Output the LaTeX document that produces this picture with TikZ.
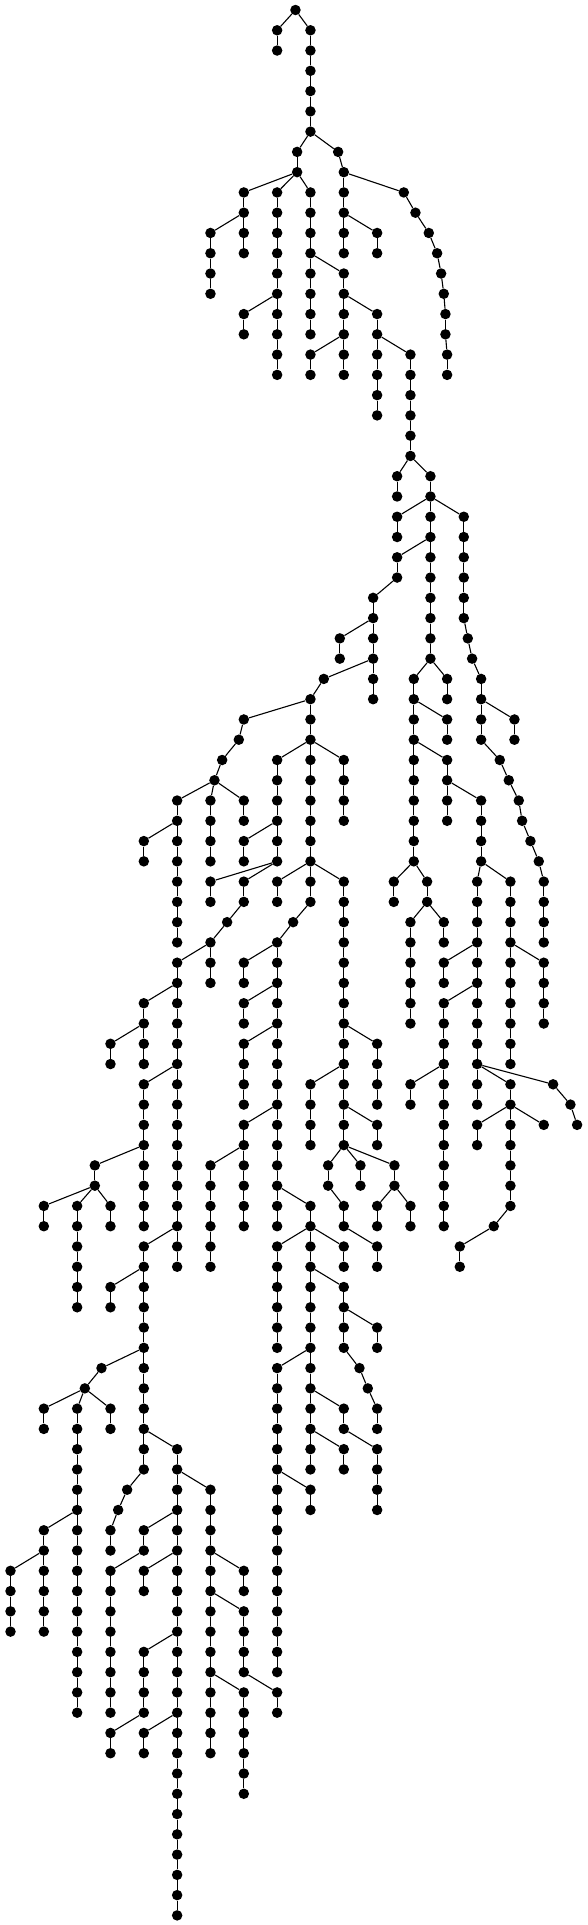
\documentclass[tikz,border=0pt]{standalone}
\begin{document}
\begin{tikzpicture}[
  v/.style={circle,fill=black,draw=none,inner sep=0pt,minimum size=10.5pt},
  e/.style={line width=1.1pt,black}]
\fill[white] (0,0) rectangle (587pt,-1925pt);
\path[use as bounding box] (0,0) rectangle (587pt,-1925pt);
\newcommand\T[4]{\node[v] (n#1x#2) at ({10.5pt+0.3333pt*#2},{-10pt-20.27pt*#1}) {}; \draw[e] (n#3x#4) -- (n#1x#2);}
\newcommand\Ch[3]{\foreach \rr in {#2,...,#3} {\pgfmathtruncatemacro\pp{\rr-1}\T{\rr}{#1}{\pp}{#1}}}
\node[v] (n0x855) at ({10.5pt+0.3333pt*855},{-10pt}) {};
\T{1}{800}{0}{855}
\T{1}{900}{0}{855}
\T{2}{800}{1}{800}
\Ch{900}{2}{6}
\T{7}{860}{6}{900}
\T{7}{983}{6}{900}
\T{8}{860}{7}{860}
\T{8}{1000}{7}{983}
\T{9}{700}{8}{860}
\T{9}{800}{8}{860}
\T{9}{900}{8}{860}
\T{9}{1000}{8}{1000}
\T{9}{1180}{8}{1000}
\T{10}{700}{9}{700}
\T{11}{600}{10}{700}
\T{11}{700}{10}{700}
\T{12}{700}{11}{700}
\Ch{600}{12}{14}
\Ch{800}{10}{14}
\T{15}{700}{14}{800}
\T{15}{800}{14}{800}
\T{16}{700}{15}{700}
\Ch{800}{16}{18}
\Ch{900}{10}{12}
\T{13}{900}{12}{900}
\T{13}{1000}{12}{900}
\Ch{900}{14}{16}
\T{14}{1000}{13}{1000}
\T{15}{1000}{14}{1000}
\T{15}{1100}{14}{1000}
\T{16}{1000}{15}{1000}
\T{17}{900}{16}{1000}
\T{17}{1000}{16}{1000}
\T{18}{900}{17}{900}
\T{18}{1000}{17}{1000}
\T{16}{1100}{15}{1100}
\T{17}{1100}{16}{1100}
\T{17}{1200}{16}{1100}
\Ch{1100}{18}{20}
\Ch{1200}{18}{22}
\T{23}{1160}{22}{1200}
\T{23}{1260}{22}{1200}
\T{10}{1000}{9}{1000}
\T{11}{1000}{10}{1000}
\T{11}{1100}{10}{1000}
\T{12}{1000}{11}{1000}
\T{12}{1100}{11}{1100}
\T{10}{1215}{9}{1180}
\T{11}{1255}{10}{1215}
\T{12}{1280}{11}{1255}
\T{13}{1292}{12}{1280}
\T{14}{1300}{13}{1292}
\T{15}{1305}{14}{1300}
\T{16}{1305}{15}{1305}
\T{17}{1310}{16}{1305}
\T{18}{1310}{17}{1310}
\T{24}{1160}{23}{1160}
\T{24}{1260}{23}{1260}
\T{25}{1160}{24}{1260}
\T{25}{1260}{24}{1260}
\T{25}{1360}{24}{1260}
\T{26}{1160}{25}{1160}
\T{26}{1260}{25}{1260}
\T{27}{1160}{26}{1260}
\T{27}{1260}{26}{1260}
\T{28}{1160}{27}{1160}
\T{29}{1088}{28}{1160}
\T{30}{1088}{29}{1088}
\T{31}{988}{30}{1088}
\T{31}{1088}{30}{1088}
\Ch{1260}{28}{32}
\T{33}{1210}{32}{1260}
\T{33}{1310}{32}{1260}
\Ch{1360}{26}{30}
\T{31}{1372}{30}{1360}
\T{32}{1385}{31}{1372}
\T{33}{1412}{32}{1385}
\T{34}{1412}{33}{1412}
\T{35}{1412}{34}{1412}
\T{35}{1512}{34}{1412}
\T{36}{1512}{35}{1512}
\T{36}{1412}{35}{1412}
\T{37}{1468}{36}{1412}
\T{38}{1495}{37}{1468}
\T{39}{1525}{38}{1495}
\T{40}{1535}{39}{1525}
\T{41}{1560}{40}{1535}
\T{42}{1585}{41}{1560}
\T{43}{1600}{42}{1585}
\Ch{1600}{44}{46}
\T{32}{988}{31}{988}
\T{32}{1088}{31}{1088}
\T{33}{940}{32}{1088}
\T{33}{1088}{32}{1088}
\T{34}{1088}{33}{1088}
\T{34}{900}{33}{940}
\T{35}{700}{34}{900}
\T{35}{900}{34}{900}
\T{36}{685}{35}{700}
\T{37}{635}{36}{685}
\T{38}{612}{37}{635}
\T{39}{500}{38}{612}
\T{39}{600}{38}{612}
\T{39}{700}{38}{612}
\T{36}{900}{35}{900}
\T{37}{800}{36}{900}
\T{37}{900}{36}{900}
\T{37}{1000}{36}{900}
\Ch{800}{38}{39}
\Ch{900}{38}{39}
\Ch{1000}{38}{39}
\T{34}{1210}{33}{1210}
\T{35}{1210}{34}{1210}
\T{35}{1310}{34}{1210}
\T{36}{1310}{35}{1310}
\T{36}{1210}{35}{1210}
\T{37}{1210}{36}{1210}
\T{37}{1310}{36}{1210}
\Ch{1210}{38}{42}
\T{38}{1310}{37}{1310}
\T{39}{1310}{38}{1310}
\T{39}{1412}{38}{1310}
\T{34}{1310}{33}{1310}
\T{43}{1150}{42}{1210}
\T{43}{1250}{42}{1210}
\T{44}{1150}{43}{1150}
\T{44}{1250}{43}{1250}
\T{45}{1200}{44}{1250}
\T{45}{1300}{44}{1250}
\Ch{1200}{46}{47}
\T{46}{1300}{45}{1300}
\T{40}{1310}{39}{1310}
\Ch{1412}{40}{42}
\T{43}{1400}{42}{1412}
\T{43}{1500}{42}{1412}
\Ch{1400}{44}{46}
\T{47}{1300}{46}{1400}
\T{47}{1400}{46}{1400}
\Ch{1500}{44}{46}
\T{47}{1500}{46}{1500}
\T{47}{1600}{46}{1500}
\Ch{1600}{48}{50}
\Ch{1500}{48}{52}
\T{48}{1400}{47}{1400}
\T{49}{1300}{48}{1400}
\T{49}{1400}{48}{1400}
\Ch{1300}{50}{52}
\T{53}{1200}{52}{1300}
\T{53}{1300}{52}{1300}
\T{54}{1200}{53}{1200}
\Ch{1300}{54}{60}
\Ch{1400}{50}{52}
\T{53}{1400}{52}{1400}
\T{53}{1500}{52}{1400}
\T{53}{1628}{52}{1400}
\T{54}{1400}{53}{1400}
\T{54}{1500}{53}{1500}
\T{55}{1400}{54}{1500}
\T{55}{1500}{54}{1500}
\T{55}{1600}{54}{1500}
\T{48}{1300}{47}{1300}
\T{54}{1680}{53}{1628}
\T{55}{1700}{54}{1680}
\T{56}{1400}{55}{1400}
\Ch{1500}{56}{59}
\T{60}{1450}{59}{1500}
\T{61}{1348}{60}{1450}
\T{62}{1348}{61}{1348}
\T{40}{1000}{39}{1000}
\Ch{900}{40}{42}
\T{43}{800}{42}{900}
\T{43}{900}{42}{900}
\T{43}{1000}{42}{900}
\T{44}{800}{43}{800}
\T{44}{900}{43}{900}
\T{45}{848}{44}{900}
\T{46}{800}{45}{848}
\T{47}{700}{46}{800}
\T{47}{800}{46}{800}
\Ch{1000}{44}{50}
\T{40}{800}{39}{800}
\T{41}{700}{40}{800}
\T{41}{800}{40}{800}
\T{42}{700}{41}{700}
\T{42}{800}{41}{800}
\T{43}{600}{42}{800}
\T{43}{700}{42}{800}
\T{44}{600}{43}{600}
\T{44}{700}{43}{700}
\T{45}{650}{44}{700}
\T{46}{600}{45}{650}
\T{47}{500}{46}{600}
\T{47}{600}{46}{600}
\T{40}{700}{39}{700}
\Ch{600}{40}{42}
\T{40}{500}{39}{500}
\T{41}{400}{40}{500}
\T{42}{400}{41}{400}
\Ch{500}{41}{46}
\T{48}{500}{47}{500}
\T{49}{400}{48}{500}
\T{49}{500}{48}{500}
\T{50}{400}{49}{400}
\T{51}{300}{50}{400}
\T{51}{400}{50}{400}
\T{52}{300}{51}{300}
\T{52}{400}{51}{400}
\Ch{500}{50}{52}
\T{53}{400}{52}{500}
\T{53}{500}{52}{500}
\Ch{400}{54}{56}
\Ch{500}{54}{60}
\T{48}{600}{47}{600}
\T{48}{700}{47}{700}
\T{48}{800}{47}{800}
\T{49}{700}{48}{800}
\T{49}{800}{48}{800}
\T{50}{700}{49}{700}
\T{50}{800}{49}{800}
\T{51}{700}{50}{800}
\T{51}{800}{50}{800}
\Ch{700}{52}{54}
\Ch{800}{52}{54}
\T{55}{700}{54}{800}
\T{55}{800}{54}{800}
\T{51}{1100}{50}{1000}
\Ch{1100}{52}{54}
\Ch{1000}{51}{52}
\T{53}{900}{52}{1000}
\T{53}{1000}{52}{1000}
\Ch{900}{54}{56}
\Ch{1000}{54}{56}
\T{55}{1100}{54}{1000}
\Ch{1200}{48}{50}
\T{57}{253}{56}{400}
\T{57}{400}{56}{400}
\T{58}{253}{57}{253}
\T{59}{100}{58}{253}
\T{59}{200}{58}{253}
\T{59}{300}{58}{253}
\T{60}{100}{59}{100}
\Ch{200}{60}{64}
\T{60}{300}{59}{300}
\Ch{400}{58}{60}
\T{61}{400}{60}{500}
\T{61}{500}{60}{500}
\T{62}{400}{61}{400}
\T{63}{300}{62}{400}
\T{63}{400}{62}{400}
\T{62}{500}{61}{500}
\T{56}{700}{55}{700}
\T{57}{600}{56}{700}
\T{57}{700}{56}{700}
\Ch{600}{58}{62}
\Ch{700}{58}{60}
\Ch{800}{56}{58}
\T{59}{800}{58}{800}
\T{59}{900}{58}{800}
\T{60}{800}{59}{800}
\T{60}{900}{59}{900}
\T{61}{800}{60}{900}
\T{61}{900}{60}{900}
\T{61}{1000}{60}{900}
\Ch{800}{62}{66}
\T{62}{900}{61}{900}
\T{63}{900}{62}{900}
\T{63}{1000}{62}{900}
\T{62}{1000}{61}{1000}
\T{57}{953}{56}{1000}
\T{57}{1050}{56}{1000}
\T{57}{1152}{56}{1000}
\T{58}{953}{57}{953}
\T{59}{1000}{58}{953}
\T{60}{1000}{59}{1000}
\T{61}{1100}{60}{1000}
\T{62}{1100}{61}{1100}
\T{58}{1050}{57}{1050}
\T{58}{1152}{57}{1152}
\T{59}{1100}{58}{1152}
\T{59}{1200}{58}{1152}
\T{60}{1100}{59}{1100}
\T{60}{1200}{59}{1200}
\T{56}{1100}{55}{1100}
\T{64}{300}{63}{300}
\Ch{400}{64}{66}
\T{67}{273}{66}{400}
\T{67}{400}{66}{400}
\T{68}{223}{67}{273}
\T{69}{100}{68}{223}
\T{69}{200}{68}{223}
\T{69}{300}{68}{223}
\T{70}{100}{69}{100}
\T{70}{200}{69}{200}
\T{71}{200}{70}{200}
\T{70}{300}{69}{300}
\Ch{400}{68}{70}
\T{71}{400}{70}{400}
\T{71}{500}{70}{400}
\Ch{900}{64}{66}
\T{67}{800}{66}{900}
\T{67}{900}{66}{900}
\Ch{800}{68}{71}
\T{68}{900}{67}{900}
\T{69}{900}{68}{900}
\T{69}{1000}{68}{900}
\T{70}{900}{69}{900}
\T{71}{900}{70}{900}
\T{71}{1000}{70}{900}
\T{70}{1000}{69}{1000}
\T{71}{1100}{70}{1000}
\T{64}{1000}{63}{1000}
\T{65}{1000}{64}{1000}
\T{65}{1100}{64}{1000}
\T{66}{1100}{65}{1100}
\T{66}{1000}{65}{1000}
\T{67}{1047}{66}{1000}
\T{68}{1072}{67}{1047}
\T{69}{1100}{68}{1072}
\T{70}{1100}{69}{1100}
\Ch{200}{72}{74}
\T{75}{100}{74}{200}
\T{75}{200}{74}{200}
\T{76}{100}{75}{100}
\T{77}{0}{76}{100}
\T{77}{100}{76}{100}
\Ch{0}{78}{80}
\Ch{100}{78}{80}
\Ch{200}{76}{84}
\T{72}{400}{71}{400}
\T{73}{350}{72}{400}
\T{74}{323}{73}{350}
\T{75}{300}{74}{323}
\T{76}{300}{75}{300}
\T{72}{500}{71}{500}
\T{73}{500}{72}{500}
\T{73}{600}{72}{500}
\T{74}{500}{73}{500}
\T{75}{400}{74}{500}
\T{75}{500}{74}{500}
\T{76}{400}{75}{400}
\T{77}{300}{76}{400}
\Ch{300}{78}{84}
\T{76}{500}{75}{500}
\T{77}{400}{76}{500}
\T{78}{400}{77}{400}
\Ch{500}{77}{80}
\T{81}{400}{80}{500}
\T{81}{500}{80}{500}
\Ch{400}{82}{84}
\T{85}{300}{84}{400}
\T{86}{300}{85}{300}
\Ch{500}{82}{84}
\T{85}{400}{84}{500}
\T{86}{400}{85}{400}
\Ch{500}{85}{94}
\Ch{600}{74}{76}
\T{77}{600}{76}{600}
\T{77}{700}{76}{600}
\T{78}{700}{77}{700}
\T{78}{600}{77}{600}
\T{79}{600}{78}{600}
\T{79}{700}{78}{600}
\Ch{600}{80}{82}
\T{83}{600}{82}{600}
\T{83}{700}{82}{600}
\Ch{600}{84}{86}
\Ch{700}{84}{88}
\Ch{700}{80}{82}
\T{83}{800}{82}{700}
\T{84}{800}{83}{800}
\T{72}{800}{71}{800}
\T{73}{800}{72}{800}
\T{73}{900}{72}{800}
\T{74}{900}{73}{900}
\Ch{800}{74}{82}
\T{72}{900}{71}{900}
\T{72}{1000}{71}{1000}
\Ch{1100}{72}{74}
\end{tikzpicture}
\end{document}
